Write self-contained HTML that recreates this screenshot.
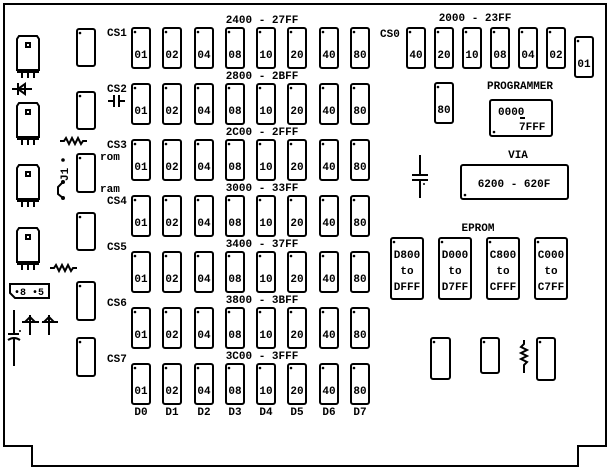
<!DOCTYPE html>
<html><head><style>
body{margin:0;background:#fff}
svg{display:block}
text{font-family:"Liberation Mono",monospace;font-weight:bold;font-size:11px;fill:#000}
.c{fill:#fff;stroke:#000;stroke-width:2}
.l{fill:none;stroke:#000;stroke-width:2}
</style></head><body>
<svg width="610" height="470" viewBox="0 0 610 470" xmlns="http://www.w3.org/2000/svg">
<defs>
<g id="k"><rect class="c" x="0" y="0" width="18" height="40" rx="2"/><circle cx="3" cy="4" r="1.3"/></g>
<g id="row">
<use href="#k" x="132"/><use href="#k" x="163"/><use href="#k" x="195"/><use href="#k" x="226"/>
<use href="#k" x="257"/><use href="#k" x="288"/><use href="#k" x="320"/><use href="#k" x="351"/>
</g>
</defs>
<path class="l" d="M4,4 H606 V446 H578 V466 H32 V446 H4 Z"/>
<use href="#row" y="28"/><use href="#row" y="84"/><use href="#row" y="140"/><use href="#row" y="196"/>
<use href="#row" y="252"/><use href="#row" y="308"/><use href="#row" y="364"/>
<g text-anchor="middle">
<text y="58"><tspan x="141">01</tspan><tspan x="172">02</tspan><tspan x="204">04</tspan><tspan x="235">08</tspan><tspan x="266">10</tspan><tspan x="297">20</tspan><tspan x="329">40</tspan><tspan x="360">80</tspan></text>
<text y="114"><tspan x="141">01</tspan><tspan x="172">02</tspan><tspan x="204">04</tspan><tspan x="235">08</tspan><tspan x="266">10</tspan><tspan x="297">20</tspan><tspan x="329">40</tspan><tspan x="360">80</tspan></text>
<text y="170"><tspan x="141">01</tspan><tspan x="172">02</tspan><tspan x="204">04</tspan><tspan x="235">08</tspan><tspan x="266">10</tspan><tspan x="297">20</tspan><tspan x="329">40</tspan><tspan x="360">80</tspan></text>
<text y="226"><tspan x="141">01</tspan><tspan x="172">02</tspan><tspan x="204">04</tspan><tspan x="235">08</tspan><tspan x="266">10</tspan><tspan x="297">20</tspan><tspan x="329">40</tspan><tspan x="360">80</tspan></text>
<text y="282"><tspan x="141">01</tspan><tspan x="172">02</tspan><tspan x="204">04</tspan><tspan x="235">08</tspan><tspan x="266">10</tspan><tspan x="297">20</tspan><tspan x="329">40</tspan><tspan x="360">80</tspan></text>
<text y="338"><tspan x="141">01</tspan><tspan x="172">02</tspan><tspan x="204">04</tspan><tspan x="235">08</tspan><tspan x="266">10</tspan><tspan x="297">20</tspan><tspan x="329">40</tspan><tspan x="360">80</tspan></text>
<text y="394"><tspan x="141">01</tspan><tspan x="172">02</tspan><tspan x="204">04</tspan><tspan x="235">08</tspan><tspan x="266">10</tspan><tspan x="297">20</tspan><tspan x="329">40</tspan><tspan x="360">80</tspan></text>
</g>
<!-- CS0 row -->
<use href="#k" x="407" y="28"/><use href="#k" x="435" y="28"/><use href="#k" x="463" y="28"/>
<use href="#k" x="491" y="28"/><use href="#k" x="519" y="28"/><use href="#k" x="547" y="28"/>
<use href="#k" x="575" y="37"/><use href="#k" x="435" y="83"/>
<g text-anchor="middle">
<text y="58"><tspan x="416">40</tspan><tspan x="444">20</tspan><tspan x="472">10</tspan><tspan x="500">08</tspan><tspan x="528">04</tspan><tspan x="556">02</tspan></text>
<text x="584" y="67">01</text>
<text x="444" y="113">80</text>
</g>
<!-- left chips -->
<rect class="c" x="77" y="29" width="18" height="37" rx="2"/><circle cx="80" cy="33" r="1.3"/>
<rect class="c" x="77" y="92" width="18" height="37" rx="2"/><circle cx="80" cy="96" r="1.3"/>
<rect class="c" x="77" y="154" width="18" height="38" rx="2"/><circle cx="80" cy="158" r="1.3"/>
<rect class="c" x="77" y="213" width="18" height="37" rx="2"/><circle cx="80" cy="217" r="1.3"/>
<rect class="c" x="77" y="282" width="18" height="38" rx="2"/><circle cx="80" cy="286" r="1.3"/>
<rect class="c" x="77" y="338" width="18" height="38" rx="2"/><circle cx="80" cy="342" r="1.3"/>
<!-- bottom right chips -->
<rect class="c" x="431" y="338" width="19" height="41" rx="2"/><circle cx="434" cy="342" r="1.3"/>
<rect class="c" x="481" y="338" width="18" height="35" rx="2"/><circle cx="484" cy="342" r="1.3"/>
<rect class="c" x="537" y="338" width="18" height="42" rx="2"/><circle cx="540" cy="342" r="1.3"/>
<!-- EPROMs -->
<rect class="c" x="391" y="238" width="32" height="61" rx="2"/><circle cx="394" cy="242" r="1.3"/>
<rect class="c" x="439" y="238" width="32" height="61" rx="2"/><circle cx="442" cy="242" r="1.3"/>
<rect class="c" x="487" y="238" width="32" height="61" rx="2"/><circle cx="490" cy="242" r="1.3"/>
<rect class="c" x="535" y="238" width="32" height="61" rx="2"/><circle cx="538" cy="242" r="1.3"/>
<g text-anchor="middle">
<text y="258"><tspan x="407">D800</tspan><tspan x="455">D000</tspan><tspan x="503">C800</tspan><tspan x="551">C000</tspan></text>
<text y="274"><tspan x="407">to</tspan><tspan x="455">to</tspan><tspan x="503">to</tspan><tspan x="551">to</tspan></text>
<text y="290"><tspan x="407">DFFF</tspan><tspan x="455">D7FF</tspan><tspan x="503">CFFF</tspan><tspan x="551">C7FF</tspan></text>
</g>
<!-- programmer & VIA -->
<rect class="c" x="490" y="100" width="62" height="36" rx="2"/><circle cx="494" cy="132" r="1.3"/>
<text x="498" y="115">0000</text><rect x="520" y="117" width="5" height="2"/><text x="519" y="130">7FFF</text>
<rect class="c" x="461" y="165" width="107" height="34" rx="2"/><circle cx="465" cy="195" r="1.3"/>
<text x="514" y="187" text-anchor="middle">6200 - 620F</text>
<!-- labels -->
<g text-anchor="middle">
<text x="262" y="23">2400 - 27FF</text>
<text x="262" y="79">2800 - 2BFF</text>
<text x="262" y="135">2C00 - 2FFF</text>
<text x="262" y="191">3000 - 33FF</text>
<text x="262" y="247">3400 - 37FF</text>
<text x="262" y="303">3800 - 3BFF</text>
<text x="262" y="359">3C00 - 3FFF</text>
<text x="475" y="21">2000 - 23FF</text>
<text x="520" y="89">PROGRAMMER</text>
<text x="518" y="158">VIA</text>
<text x="478" y="231">EPROM</text>
</g>
<text x="107" y="36">CS1</text><text x="107" y="92">CS2</text><text x="107" y="148">CS3</text>
<text x="107" y="204">CS4</text><text x="107" y="250">CS5</text><text x="107" y="306">CS6</text><text x="107" y="362">CS7</text>
<text x="380" y="37">CS0</text>
<text x="100" y="160">rom</text><text x="100" y="192">ram</text>
<g text-anchor="middle">
<text x="141" y="415">D0</text><text x="172" y="415">D1</text><text x="204" y="415">D2</text><text x="235" y="415">D3</text>
<text x="266" y="415">D4</text><text x="297" y="415">D5</text><text x="329" y="415">D6</text><text x="360" y="415">D7</text>
</g>
<!-- transistors -->
<g id="tr">
<path class="l" d="M17,39 l2,-3 h18 l2,3 v31 h-22 z"/><rect class="l" x="26" y="43" width="4" height="4"/>
<path class="l" d="M17,72 h22 M22,72 v6 M28,72 v6 M34,72 v6"/>
</g>
<use href="#tr" y="67"/><use href="#tr" y="129"/><use href="#tr" y="192"/>
<!-- diode left -->
<path class="l" d="M12,89 h20 M18,83 v12 M18,89 l7,-5 v10 z"/>
<!-- cap CS2 -->
<path class="l" d="M108,101 h6 M114,95 v12 M119,95 v12 M119,101 h6"/>
<!-- resistors -->
<path class="l" d="M60,141 h4 l2,-3 l3,6 l3,-6 l3,6 l3,-6 l3,6 l2,-3 h4"/>
<path class="l" d="M50,268 h4 l2,-3 l3,6 l3,-6 l3,6 l3,-6 l3,6 l2,-3 h4"/>
<path class="l" d="M524,340 v4 l-3,3 l6,3 l-6,3 l6,3 l-6,3 l6,3 l-3,3 v8"/>
<!-- J1 -->
<circle cx="63" cy="160" r="1.8"/>
<text x="68" y="181" transform="rotate(-90 68 181)">J1</text>
<circle cx="63" cy="182" r="2"/><path class="l" d="M63,182 l-5,5 v7 l5,4"/><circle cx="63" cy="198" r="2"/>
<!-- 8 5 box -->
<path class="l" d="M10,284 h39 v14 h-34 l-5,-5 z"/><text x="14" y="295" style="font-size:10px">•8 •5</text>
<!-- diodes + cap bottom left -->
<path class="l" d="M14,310 v24 M8,334 h11 M8,340 q6,-4 12,0 M14,339 v27"/><circle cx="20" cy="331" r="1"/>
<path class="l" d="M22,322 h17 M30,315 v20 M25,322 l5,-5 l5,5 z"/>
<path class="l" d="M42,322 h16 M49,315 v20 M44,322 l5,-5 l5,5 z"/>
<!-- right cap -->
<path class="l" d="M420,155 v20 M412,175 h16 M412,180 h16 M420,180 v18"/><circle cx="424" cy="184" r="1"/>
</svg>
</body></html>
